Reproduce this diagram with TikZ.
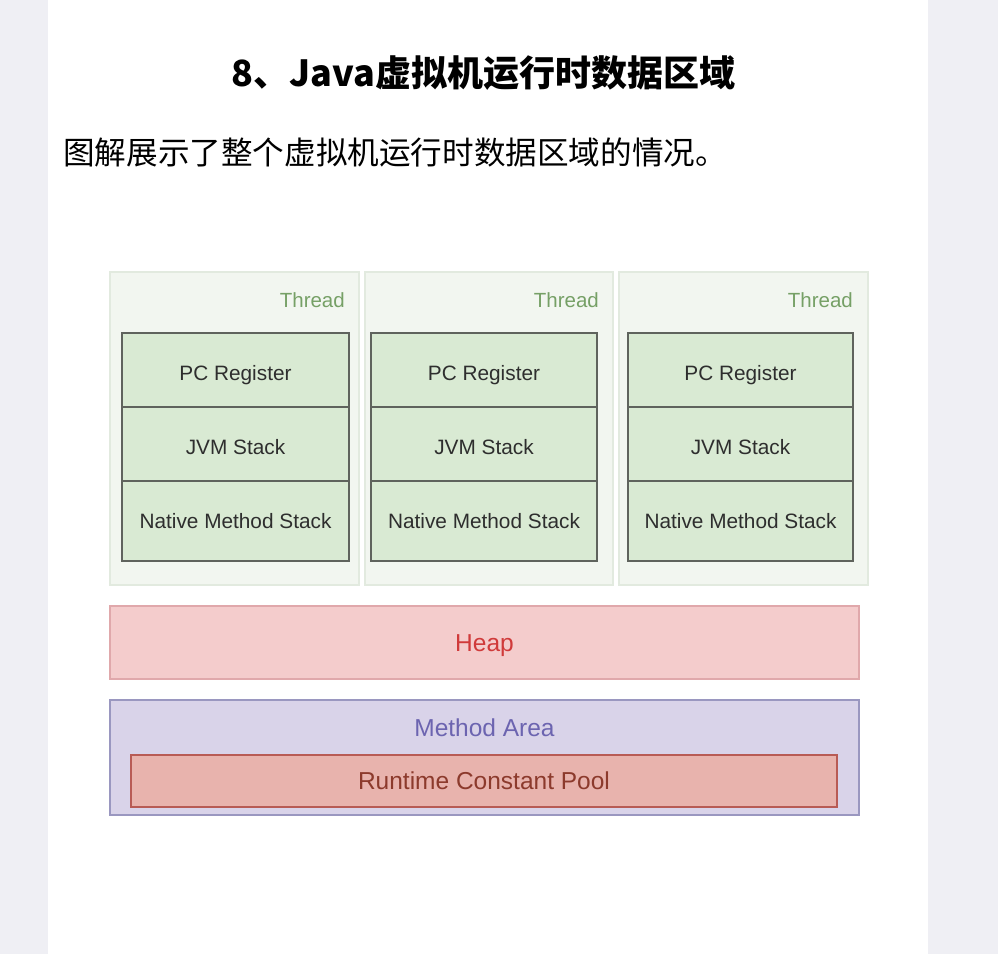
\documentclass[tikz,border=0pt]{standalone}
\usepackage{fontspec}
\setmainfont{Liberation Sans}
\newfontfamily\cjk{Noto Sans CJK SC}
\definecolor{sidegrey}{HTML}{EFEFF4}
\definecolor{panelfill}{HTML}{F2F6F0}
\definecolor{paneldraw}{HTML}{E2EADF}
\definecolor{threadtxt}{HTML}{76A066}
\definecolor{stackfill}{HTML}{D9EAD3}
\definecolor{stackdraw}{HTML}{5F635D}
\definecolor{heapfill}{HTML}{F4CCCC}
\definecolor{heapdraw}{HTML}{E0A8AB}
\definecolor{heaptxt}{HTML}{D03A3A}
\definecolor{mafill}{HTML}{D9D3E9}
\definecolor{madraw}{HTML}{9A97C0}
\definecolor{matxt}{HTML}{6C64B0}
\definecolor{rcpfill}{HTML}{E8B3AD}
\definecolor{rcpdraw}{HTML}{B85B55}
\definecolor{rcptxt}{HTML}{8C3A2C}
\tikzset{
  panelbox/.style={draw=paneldraw, fill=panelfill, line width=1.5pt, minimum width=249pt, minimum height=313pt, inner sep=0pt},
  stackbox/.style={draw=stackdraw, fill=stackfill, line width=2pt, inner sep=0pt, text depth=0pt, font=\fontsize{20.8}{24}\selectfont, text=black!82},
  stacklbl/.style={inner sep=0pt, text depth=0pt, font=\fontsize{20.8}{24}\selectfont, text=black!82},
  threadlbl/.style={anchor=east, text=threadtxt, font=\fontsize{20.5}{24}\selectfont, inner sep=0pt},
  biglbl/.style={inner sep=0pt, text depth=0pt, font=\fontsize{24.5}{28}\selectfont},
}
\begin{document}
\begin{tikzpicture}[x=1pt,y=-1pt]
\useasboundingbox (0,0) rectangle (998,954);
\fill[white] (0,0) rectangle (998,954);
\fill[sidegrey] (0,0) rectangle (48,954);
\fill[sidegrey] (928,0) rectangle (998,954);
% title
\node[inner sep=0pt, font=\cjk\bfseries\fontsize{36}{40}\selectfont] (title) at (483.5,73) {8、Java虚拟机运行时数据区域};
\node[inner sep=0pt, anchor=west, font=\cjk\fontsize{31.6}{36}\selectfont] (subtitle) at (63,152) {图解展示了整个虚拟机运行时数据区域的情况。};
% thread panels
\node[panelbox] (p1) at (234.5,428.5) {};
\node[panelbox, minimum width=248pt] (p2) at (489,428.5) {};
\node[panelbox] (p3) at (743.5,428.5) {};
\node[threadlbl] (t1) at (345,300) {Thread};
\node[threadlbl] (t2) at (599,300) {Thread};
\node[threadlbl] (t3) at (853,300) {Thread};
% stacks
\foreach \n/\cx/\w in {1/235.5/227, 2/484/226, 3/740.5/225}{
  \node[stackbox, minimum width=\w pt, minimum height=74pt] (pc\n) at (\cx,370) {};
  \node[stackbox, minimum width=\w pt, minimum height=74pt] (jvm\n) at (\cx,444) {};
  \node[stackbox, minimum width=\w pt, minimum height=80pt] (nms\n) at (\cx,521) {};
  \node[stacklbl] (pcl\n) at (\cx,372.5) {PC Register};
  \node[stacklbl] (jvml\n) at (\cx,446.5) {JVM Stack};
  \node[stacklbl] (nmsl\n) at (\cx,521) {Native Method Stack};
}
% heap
\node[draw=heapdraw, fill=heapfill, line width=2pt, minimum width=749pt, minimum height=73pt, inner sep=0pt] (heap) at (484.5,642.5) {};
\node[biglbl, text=heaptxt] (heaplbl) at (484.5,643) {Heap};
% method area
\node[draw=madraw, fill=mafill, line width=2pt, minimum width=749pt, minimum height=115pt, inner sep=0pt] (ma) at (484.5,757.5) {};
\node[biglbl, text=matxt] (malbl) at (484.5,728) {Method Area};
\node[draw=rcpdraw, fill=rcpfill, line width=2pt, minimum width=706pt, minimum height=52pt, biglbl, text=rcptxt] (rcp) at (484,781) {Runtime Constant Pool};
\end{tikzpicture}
\end{document}
